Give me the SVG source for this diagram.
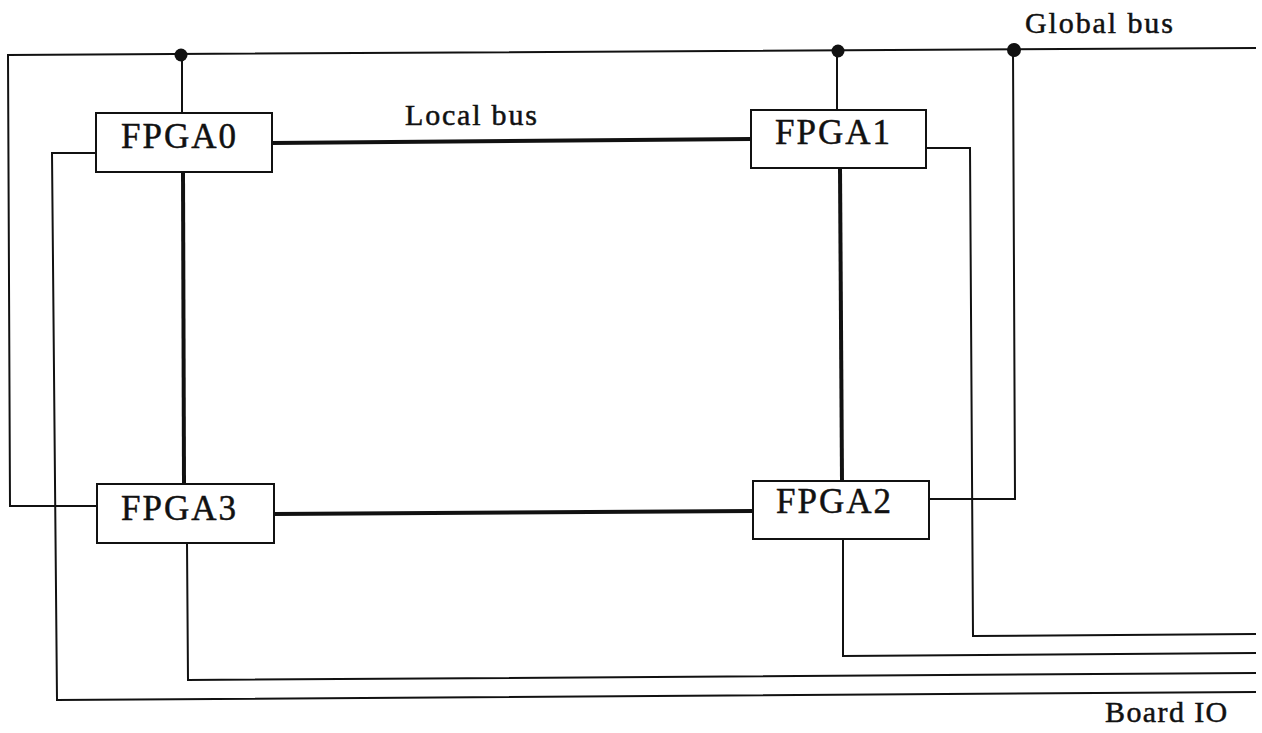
<svg xmlns="http://www.w3.org/2000/svg" width="1262" height="733" viewBox="0 0 1262 733">
<style>
.box{fill:#fff;stroke:#111;stroke-width:2}
.w{fill:none;stroke:#111;stroke-width:2;stroke-linejoin:miter}
.t{fill:none;stroke:#111;stroke-width:4}
.dot{fill:#111}
.lbl{font-family:"Liberation Serif","Times New Roman",serif;fill:#111;stroke:#111;stroke-width:0.5}
.node{font-size:35px;letter-spacing:2px}
.bus{font-size:30px}
</style>
<rect width="1262" height="733" fill="#fff"/>
<g id="connectors">
<path class="w" d="M1256,48 L8,55 L10,506 L97,506"/>
<path class="w" d="M182,55 L182,113"/>
<path class="w" d="M837,52 L837,110"/>
<path class="w" d="M1013,50 L1015,499 L929,499"/>
<path class="w" d="M96,153 L52,153 L57,700 L1256,692"/>
<path class="w" d="M926,148 L970,148 L973,636 L1256,634"/>
<path class="w" d="M843,539 L843,656 L1256,653"/>
<path class="w" d="M187,543 L188,680 L1256,673"/>
<path class="t" d="M272,143 L751,139"/>
<path class="t" d="M274,514 L753,511"/>
<path class="t" d="M183,172 L184,484"/>
<path class="t" d="M840,168 L842,481"/>
<circle class="dot" cx="181" cy="55" r="6.5"/>
<circle class="dot" cx="838" cy="51" r="6.5"/>
<circle class="dot" cx="1014" cy="50" r="7"/>
</g>
<g id="FPGA0"><rect class="box" x="96" y="113" width="176" height="59"/><text class="lbl node" x="121" y="148">FPGA0</text></g>
<g id="FPGA1"><rect class="box" x="751" y="110" width="175" height="58"/><text class="lbl node" x="775" y="144">FPGA1</text></g>
<g id="FPGA2"><rect class="box" x="753" y="481" width="176" height="58"/><text class="lbl node" x="776" y="513">FPGA2</text></g>
<g id="FPGA3"><rect class="box" x="97" y="484" width="177" height="59"/><text class="lbl node" x="121" y="520">FPGA3</text></g>
<g id="labels">
<text class="lbl bus" x="405" y="125" style="letter-spacing:1.8px">Local bus</text>
<text class="lbl bus" x="1025" y="33" style="letter-spacing:1.9px">Global bus</text>
<text class="lbl bus" x="1105" y="722" style="letter-spacing:1.4px">Board IO</text>
</g>
</svg>
